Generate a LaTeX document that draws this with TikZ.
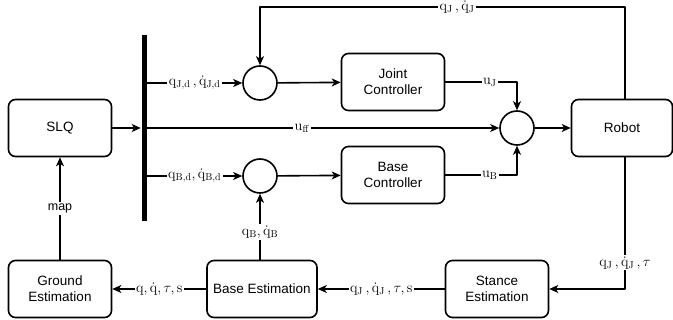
\documentclass[tikz,border=0pt]{standalone}
\usepackage[no-math]{fontspec}
\setmainfont{Liberation Sans}
\usetikzlibrary{arrows.meta}
\newcommand{\qq}{\mathrm{q}}
\newcommand{\dq}{\dot{\mathrm{q}}}
\begin{document}
\begin{tikzpicture}[x=1pt,y=-1pt,line width=1.6pt,line join=round,>={Stealth[length=9pt,width=8pt,inset=2.5pt]},
	font=\fontsize{13.5}{16}\selectfont,
	blk/.style={draw,rounded corners=7pt,minimum width=103pt,minimum height=57pt,align=center,inner sep=2pt},
	sum/.style={draw,circle,minimum size=34pt,inner sep=0pt},
	lbl/.style={fill=white,inner sep=1.5pt,font=\fontsize{14.5}{16}\selectfont}]
	\useasboundingbox (0,0) rectangle (673,320);
	\node[blk] (slq) at (60,128) {SLQ};
	\node[blk] (jc) at (393,82) {Joint\\Controller};
	\node[blk] (bc) at (393,175) {Base\\Controller};
	\node[blk,minimum width=101pt] (robot) at (622,128) {Robot};
	\node[blk] (se) at (497,289) {Stance\\Estimation};
	\node[blk,minimum width=110pt] (be) at (262,289) {Base Estimation};
	\node[blk] (ge) at (60,289) {Ground\\Estimation};
	\node[sum] (sj) at (260,83) {};
	\node[sum] (sm) at (517,128) {};
	\node[sum] (sb) at (260,176) {};
	\node[fill,minimum width=5pt,minimum height=186pt,inner sep=0pt] (bar) at (144,128) {};
	\coordinate (fb) at (260,7);
	% desired trajectories
	\draw[->] (slq) -- (bar);
	\draw[->] (bar.east |- sj) -- node[lbl]{$\qq_{\mathrm{J,d}}\,,\dq_{\mathrm{J,d}}$} (sj);
	\draw[->] (bar.east |- sb) -- node[lbl]{$\qq_{\mathrm{B,d}},\dq_{\mathrm{B,d}}$} (sb);
	\draw[->] (bar) -- node[lbl,pos=0.44]{$\mathrm{u}_{\mathrm{ff}}$} (sm);
	% controllers
	\draw[->] (sj) -- (jc);
	\draw[->] (sb) -- (bc);
	\draw[->] (jc) -| node[lbl,pos=0.31]{$\mathrm{u}_{\mathrm{J}}$} (sm);
	\draw[->] (bc) -| node[lbl,pos=0.31]{$\mathrm{u}_{\mathrm{B}}$} (sm);
	\draw[->] (sm) -- (robot);
	\draw[->] ([xshift=3pt]robot.north) |- node[lbl,pos=0.73]{$\qq_{\mathrm{J}}\,,\dq_{\mathrm{J}}$} (fb) -- (sj);
	% estimation
	\draw[->] ([xshift=3pt]robot.south) |- node[lbl,pos=0.4]{$\qq_{\mathrm{J}}\,,\dq_{\mathrm{J}}\,,\tau$} (se);
	\draw[->] (se) -- node[lbl]{$\qq_{\mathrm{J}}\,,\dq_{\mathrm{J}}\,,\tau,\mathrm{s}$} (be);
	\draw[->] (be) -- node[lbl]{$\qq,\dq,\tau,\mathrm{s}$} (ge);
	\draw[->] (be.north -| sb) -- node[lbl,pos=0.42]{$\qq_{\mathrm{B}},\dq_{\mathrm{B}}$} (sb);
	\draw[->] (ge) -- node[lbl,font=\fontsize{12.5}{15}\selectfont]{map} (slq);
\end{tikzpicture}
\end{document}
